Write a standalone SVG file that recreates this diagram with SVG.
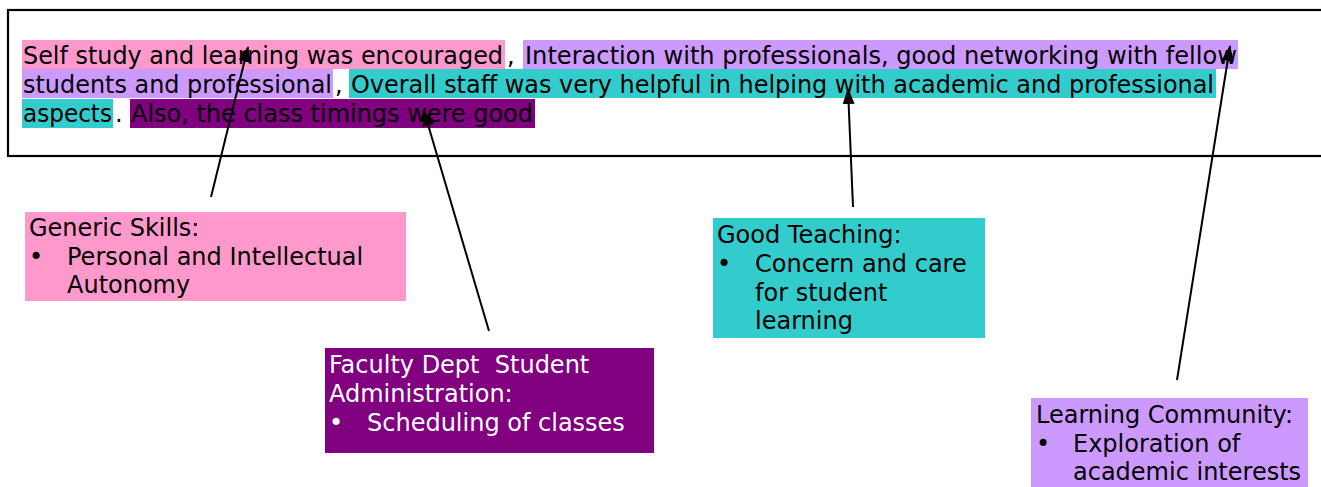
<svg xmlns="http://www.w3.org/2000/svg" width="1321" height="487" viewBox="0 0 1321 487">
  <style>
    text { font-family: "DejaVu Sans", Verdana, sans-serif; font-size: 24px; fill: #000; }
    .pink { fill: #FF99CC; }
    .lilac { fill: #CC99FF; }
    .teal { fill: #33CCCC; }
    .plum { fill: #800080; }
    .light { fill: #fff; }
    .link { stroke: #000; stroke-width: 2; fill: none; marker-end: url(#head); }
  </style>
  <defs>
    <marker id="head" markerUnits="userSpaceOnUse" markerWidth="16" markerHeight="12" refX="15" refY="6" orient="auto">
      <path d="M0,0 L16,6 L0,12 Z" fill="#000"/>
    </marker>
  </defs>
  <rect width="1321" height="487" fill="#fff"/>

  <!-- student comment with highlighted phrases -->
  <g id="comment">
    <rect x="8" y="10" width="1330" height="146" fill="none" stroke="#000" stroke-width="2.2"/>
    <rect class="pink" x="22" y="40" width="483" height="29"/>
    <rect class="lilac" x="523" y="40" width="715" height="29"/>
    <rect class="lilac" x="22" y="69" width="311" height="29"/>
    <rect class="teal" x="349" y="69" width="867" height="29"/>
    <rect class="teal" x="22" y="99" width="91" height="29"/>
    <rect class="plum" x="130" y="99" width="405" height="29"/>
    <text x="23" y="64" textLength="480" lengthAdjust="spacingAndGlyphs">Self study and learning was encouraged</text>
    <text x="507" y="64">,</text>
    <text x="525" y="64" textLength="712" lengthAdjust="spacingAndGlyphs">Interaction with professionals, good networking with fellow</text>
    <text x="23" y="93" textLength="309" lengthAdjust="spacingAndGlyphs">students and professional</text>
    <text x="335" y="93">,</text>
    <text x="351" y="93" textLength="863" lengthAdjust="spacingAndGlyphs">Overall staff was very helpful in helping with academic and professional</text>
    <text x="23" y="122" textLength="89" lengthAdjust="spacingAndGlyphs">aspects</text>
    <text x="115" y="122">.</text>
    <text x="131" y="122" textLength="402" lengthAdjust="spacingAndGlyphs">Also, the class timings were good</text>
  </g>

  <g id="generic-skills">
    <rect class="pink" x="25" y="212" width="381" height="89"/>
    <text x="29" y="236">Generic Skills:</text>
    <text x="29" y="265">•</text>
    <text x="67" y="265">Personal and Intellectual</text>
    <text x="67" y="293">Autonomy</text>
  </g>

  <g id="student-administration">
    <rect class="plum" x="325" y="348" width="329" height="105"/>
    <text class="light" x="329" y="373" xml:space="preserve">Faculty Dept  Student</text>
    <text class="light" x="329" y="402">Administration:</text>
    <text class="light" x="329" y="431">•</text>
    <text class="light" x="367" y="431">Scheduling of classes</text>
  </g>

  <g id="good-teaching">
    <rect class="teal" x="713" y="218" width="272" height="120"/>
    <text x="717" y="243">Good Teaching:</text>
    <text x="717" y="272">•</text>
    <text x="755" y="272">Concern and care</text>
    <text x="755" y="301">for student</text>
    <text x="755" y="329">learning</text>
  </g>

  <g id="learning-community">
    <rect class="lilac" x="1031" y="398" width="277" height="89"/>
    <text x="1036" y="423">Learning Community:</text>
    <text x="1036" y="452">•</text>
    <text x="1073" y="452">Exploration of</text>
    <text x="1073" y="480">academic interests</text>
  </g>

  <g id="connectors">
    <line class="link" x1="211" y1="197" x2="248" y2="47"/>
    <line class="link" x1="489" y1="331" x2="424" y2="111"/>
    <line class="link" x1="853" y1="207" x2="848" y2="89"/>
    <line class="link" x1="1177" y1="380" x2="1230" y2="46"/>
  </g>
</svg>
